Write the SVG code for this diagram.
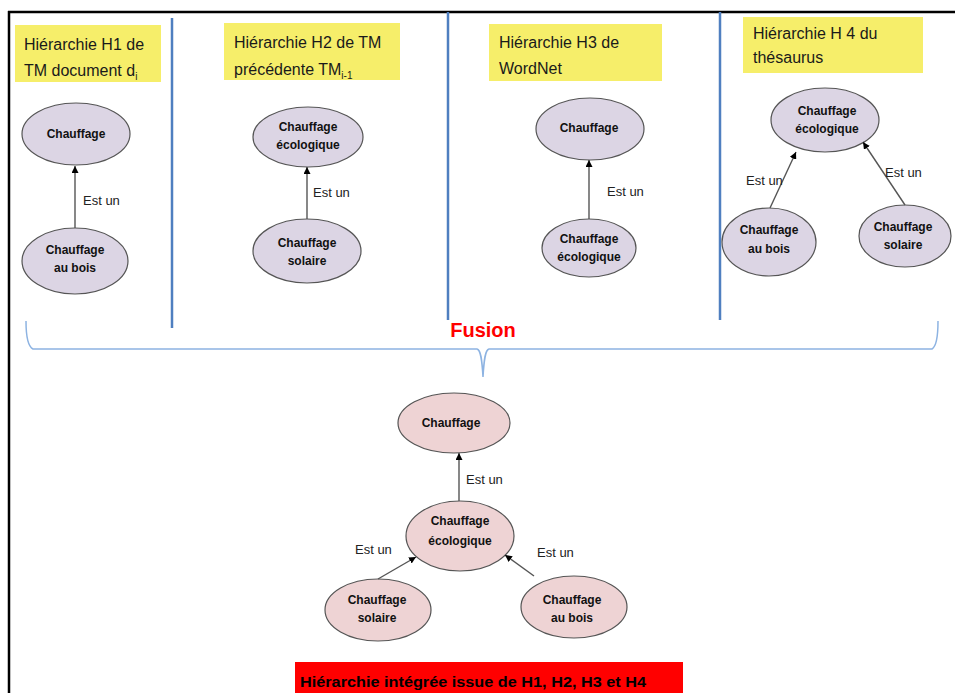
<svg xmlns="http://www.w3.org/2000/svg" width="955" height="693" viewBox="0 0 955 693">
<style>
.title{font-family:"Liberation Sans",Arial,sans-serif;font-size:16px;fill:#1a1a1a}
.node{font-family:"Liberation Sans",Arial,sans-serif;font-size:12px;font-weight:bold;fill:#111;text-anchor:middle}
.lbl{font-family:"Liberation Sans",Arial,sans-serif;font-size:13px;fill:#222}
.yb{fill:#f6ee6a}
.ep{fill:#dcd5e4;stroke:#555;stroke-width:1.2}
.er{fill:#eed3d4;stroke:#555;stroke-width:1.2}
.edge{stroke:#555;stroke-width:1.4;fill:none;marker-end:url(#ah)}
.sep{stroke:#4f7fc0;stroke-width:2.5}
</style>
<defs>
<marker id="ah" viewBox="0 0 10 10" refX="10" refY="5" markerWidth="7" markerHeight="7" markerUnits="userSpaceOnUse" orient="auto">
<path d="M0,0 L10,5 L0,10 z" fill="#000"/>
</marker>
</defs>
<rect width="955" height="693" fill="#fff"/>
<g id="frame">
<line x1="8" y1="12" x2="955" y2="12" stroke="#000" stroke-width="2.5"/>
<line x1="9" y1="11" x2="9" y2="693" stroke="#000" stroke-width="2.5"/>
<line class="sep" x1="172" y1="18" x2="172" y2="328"/>
<line class="sep" x1="448" y1="12" x2="448" y2="320"/>
<line class="sep" x1="720" y1="12" x2="720" y2="320"/>
</g>
<g id="titles">
<g id="t1"><rect class="yb" x="15" y="25" width="146" height="57"/>
<text class="title" x="24" y="50">Hiérarchie H1 de</text>
<text class="title" x="24" y="76">TM document d<tspan font-size="10" dy="4">i</tspan></text></g>
<g id="t2"><rect class="yb" x="224" y="23" width="176" height="57"/>
<text class="title" x="234" y="48">Hiérarchie H2 de TM</text>
<text class="title" x="234" y="75">précédente TM<tspan font-size="10" dy="4">i-1</tspan></text></g>
<g id="t3"><rect class="yb" x="489" y="24" width="173" height="57"/>
<text class="title" x="499" y="48">Hiérarchie H3 de</text>
<text class="title" x="499" y="74">WordNet</text></g>
<g id="t4"><rect class="yb" x="743" y="17" width="180" height="56"/>
<text class="title" x="753" y="39">Hiérarchie H 4 du</text>
<text class="title" x="753" y="63">thésaurus</text></g>
</g>
<g id="h1-chauffage"><ellipse class="ep" cx="76" cy="134" rx="54" ry="31"/><text class="node" x="76" y="138">Chauffage</text></g>
<g id="h1-bois"><ellipse class="ep" cx="75" cy="261" rx="53" ry="33"/><text class="node" x="75" y="254">Chauffage</text><text class="node" x="75" y="272">au bois</text></g>
<g id="h2-eco"><ellipse class="ep" cx="308" cy="137" rx="55" ry="30"/><text class="node" x="308" y="131">Chauffage</text><text class="node" x="308" y="149">écologique</text></g>
<g id="h2-solaire"><ellipse class="ep" cx="307" cy="251" rx="54" ry="32"/><text class="node" x="307" y="247">Chauffage</text><text class="node" x="307" y="265">solaire</text></g>
<g id="h3-chauffage"><ellipse class="ep" cx="590" cy="129" rx="54" ry="31"/><text class="node" x="589" y="132">Chauffage</text></g>
<g id="h3-eco"><ellipse class="ep" cx="589" cy="248" rx="47" ry="29"/><text class="node" x="589" y="243">Chauffage</text><text class="node" x="589" y="261">écologique</text></g>
<g id="h4-eco"><ellipse class="ep" cx="825" cy="120" rx="54" ry="32"/><text class="node" x="827" y="115">Chauffage</text><text class="node" x="827" y="133">écologique</text></g>
<g id="h4-bois"><ellipse class="ep" cx="769" cy="242" rx="47" ry="34"/><text class="node" x="769" y="234">Chauffage</text><text class="node" x="769" y="253">au bois</text></g>
<g id="h4-solaire"><ellipse class="ep" cx="905" cy="236" rx="46" ry="31"/><text class="node" x="903" y="231">Chauffage</text><text class="node" x="903" y="249">solaire</text></g>
<g id="fusion">
<path d="M26,321 C26,333 27,346 33,349 L477,349 C481,350 482,360 483,377 C484,360 485,350 489,349 L932,349 C937,346 938,333 938,321" fill="none" stroke="#8db3e2" stroke-width="1.5"/>
<text x="483" y="337" text-anchor="middle" font-family="'Liberation Sans',Arial,sans-serif" font-size="20" font-weight="bold" fill="#ff0000">Fusion</text>
</g>
<g id="m-chauffage"><ellipse class="er" cx="454" cy="423" rx="56" ry="30"/><text class="node" x="451" y="427">Chauffage</text></g>
<g id="m-eco"><ellipse class="er" cx="460" cy="536" rx="54" ry="35"/><text class="node" x="460" y="525">Chauffage</text><text class="node" x="460" y="545">écologique</text></g>
<g id="m-solaire"><ellipse class="er" cx="378" cy="610" rx="53" ry="31"/><text class="node" x="377" y="604">Chauffage</text><text class="node" x="377" y="622">solaire</text></g>
<g id="m-bois"><ellipse class="er" cx="574" cy="607" rx="53" ry="31"/><text class="node" x="572" y="604">Chauffage</text><text class="node" x="572" y="622">au bois</text></g>
<g id="connectors">
<line class="edge" x1="75" y1="228" x2="75" y2="166"/>
<line class="edge" x1="307" y1="219" x2="307" y2="167"/>
<line class="edge" x1="589" y1="219" x2="589" y2="160"/>
<line class="edge" x1="770" y1="208" x2="796" y2="152"/>
<line class="edge" x1="905" y1="205" x2="863" y2="142"/>
<line class="edge" x1="459" y1="501" x2="459" y2="453"/>
<line class="edge" x1="378" y1="579" x2="416" y2="557"/>
<line class="edge" x1="534" y1="576" x2="505" y2="555"/>
<text class="lbl" x="83" y="205">Est un</text>
<text class="lbl" x="313" y="197">Est un</text>
<text class="lbl" x="607" y="196">Est un</text>
<text class="lbl" x="746" y="185">Est un</text>
<text class="lbl" x="885" y="177">Est un</text>
<text class="lbl" x="466" y="484">Est un</text>
<text class="lbl" x="355" y="554">Est un</text>
<text class="lbl" x="537" y="557">Est un</text>
</g>
<g id="result">
<rect x="295" y="662" width="388" height="31" fill="#ff0000"/>
<text x="300" y="687" font-family="'Liberation Sans',Arial,sans-serif" font-size="15" font-weight="bold" fill="#000" textLength="346" lengthAdjust="spacingAndGlyphs">Hiérarchie intégrée issue de H1, H2, H3 et H4</text>
</g>
</svg>
